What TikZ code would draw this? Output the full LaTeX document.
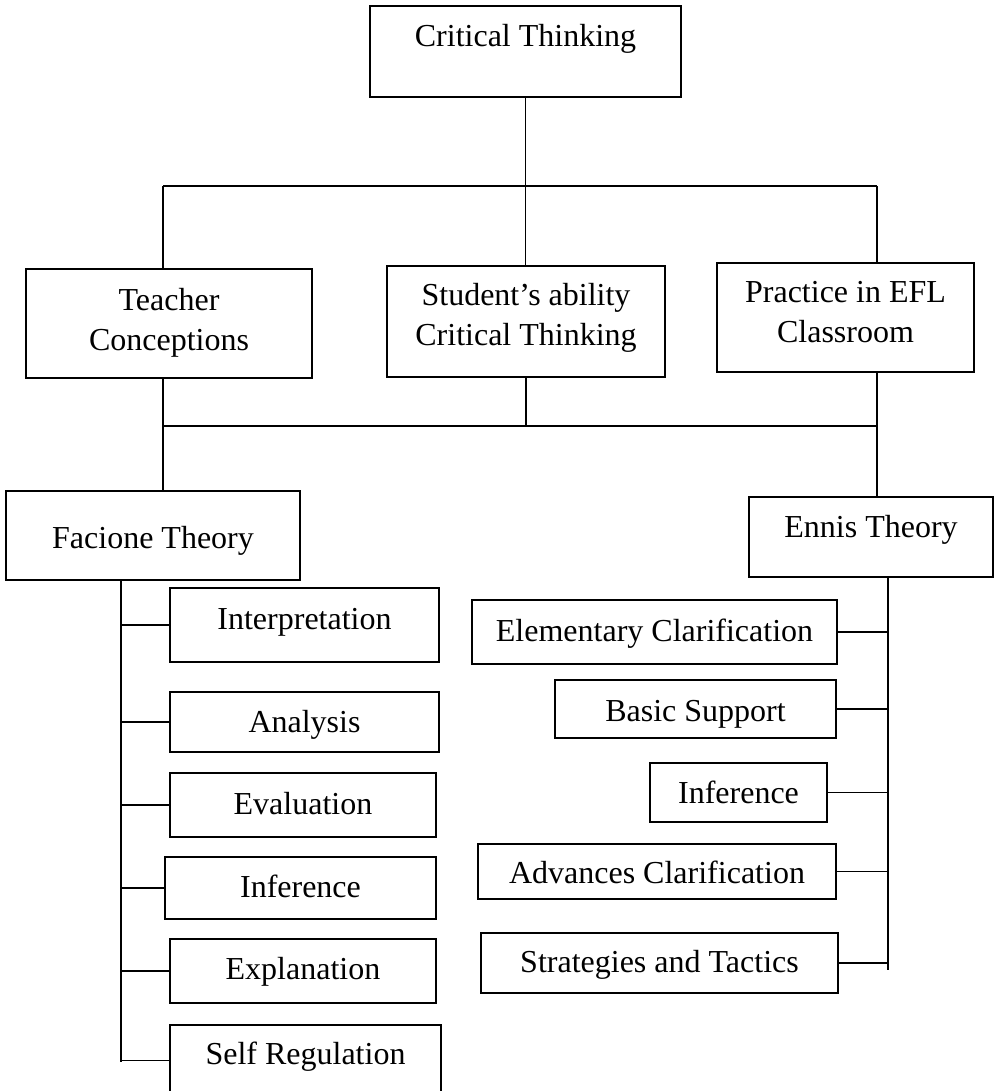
\documentclass[tikz,border=0pt]{standalone}
\usepackage{fontspec}
\setmainfont{Liberation Serif}
\begin{document}
\begin{tikzpicture}[
x=0.5pt, y=-0.5pt,
concept/.style={rectangle, draw=black, line width=1pt, inner xsep=0pt, inner ysep=0pt, outer sep=0pt, anchor=north west, font=\fontsize{16}{20}\selectfont},
link/.style={draw=black, line width=0.6pt},
]
\useasboundingbox (0,0) rectangle (1000,1091);
\node[concept] (CT) [minimum width=155.5pt, text height=20.5pt, text depth=25pt] at (370,6) {Critical Thinking};
\node[concept] (TC) [minimum width=143pt, text height=20.5pt, text depth=34pt] at (26,269)
	{\begin{tabular}[t]{@{}c@{}}Teacher\\Conceptions\end{tabular}};
\node[concept] (SA) [minimum width=139pt, text height=19.5pt, text depth=36pt] at (387,266)
	{\begin{tabular}[t]{@{}c@{}}Student’s ability\\Critical Thinking\end{tabular}};
\node[concept] (PE) [minimum width=128.5pt, text height=19.5pt, text depth=35pt] at (717,263)
	{\begin{tabular}[t]{@{}c@{}}Practice in EFL\\Classroom\end{tabular}};
\node[concept] (FT) [minimum width=147pt, text height=28.5pt, text depth=16pt] at (6,491) {Facione Theory};
\node[concept] (ET) [minimum width=122pt, text height=20pt, text depth=20pt] at (749,497) {Ennis Theory};
\node[concept] (INT) [minimum width=134.5pt, text height=20.5pt, text depth=16.5pt] at (170,588) {Interpretation};
\node[concept] (ANA) [minimum width=134.5pt, text height=20pt, text depth=10pt] at (170,692) {Analysis};
\node[concept] (EVA) [minimum width=133pt, text height=20.5pt, text depth=11.5pt] at (170,773) {Evaluation};
\node[concept] (INFF) [minimum width=135.5pt, text height=20pt, text depth=11pt] at (165,857) {Inference};
\node[concept] (EXP) [minimum width=133pt, text height=20pt, text depth=12pt] at (170,939) {Explanation};
\node[concept] (SR) [minimum width=135.5pt, text height=19.5pt, text depth=16pt] at (170,1025) {Self Regulation};
\node[concept] (EC) [minimum width=182.5pt, text height=20.5pt, text depth=11.5pt] at (472,600) {Elementary Clarification};
\node[concept] (BS) [minimum width=140.5pt, text height=20.5pt, text depth=8.5pt] at (555,680) {Basic Support};
\node[concept] (INFE) [minimum width=88.5pt, text height=20pt, text depth=9.5pt] at (650,763) {Inference};
\node[concept] (AC) [minimum width=179pt, text height=19.5pt, text depth=8pt] at (478,844) {Advances Clarification};
\node[concept] (ST) [minimum width=178.5pt, text height=19.5pt, text depth=10.5pt] at (481,933) {Strategies and Tactics};
\coordinate (topL) at (163,186);
\coordinate (topR) at (877,186);
\coordinate (midL) at (163,426);
\coordinate (midR) at (877,426);
\coordinate (trunkF) at (121,1062);
\coordinate (trunkE) at (888,970);
\draw[link] (CT.south) -- (CT.south |- topL);
\draw[link] (topL) -- (topR);
\draw[link] (topL) -- (topL |- TC.north);
\draw[link] (CT.south |- topL) -- (CT.south |- SA.north);
\draw[link] (topR) -- (topR |- PE.north);
\draw[link] (midL |- TC.south) -- (midL);
\draw[link] (SA.south) -- (SA.south |- midL);
\draw[link] (midR |- PE.south) -- (midR);
\draw[link] (midL) -- (midR);
\draw[link] (midL) -- (midL |- FT.north);
\draw[link] (midR) -- (midR |- ET.north);
\draw[link] (trunkF |- FT.south) -- (trunkF);
\draw[link] (trunkF |- INT.west) -- (INT.west);
\draw[link] (trunkF |- ANA.west) -- (ANA.west);
\draw[link] (trunkF |- EVA.west) -- (EVA.west);
\draw[link] (trunkF |- INFF.west) -- (INFF.west);
\draw[link] (trunkF |- EXP.west) -- (EXP.west);
\draw[link] (trunkF |- SR.west) -- (SR.west);
\draw[link] (trunkE |- ET.south) -- (trunkE);
\draw[link] (EC.east) -- (trunkE |- EC.east);
\draw[link] (BS.east) -- (trunkE |- BS.east);
\draw[link] (INFE.east) -- (trunkE |- INFE.east);
\draw[link] (AC.east) -- (trunkE |- AC.east);
\draw[link] (ST.east) -- (trunkE |- ST.east);
\end{tikzpicture}
\end{document}
